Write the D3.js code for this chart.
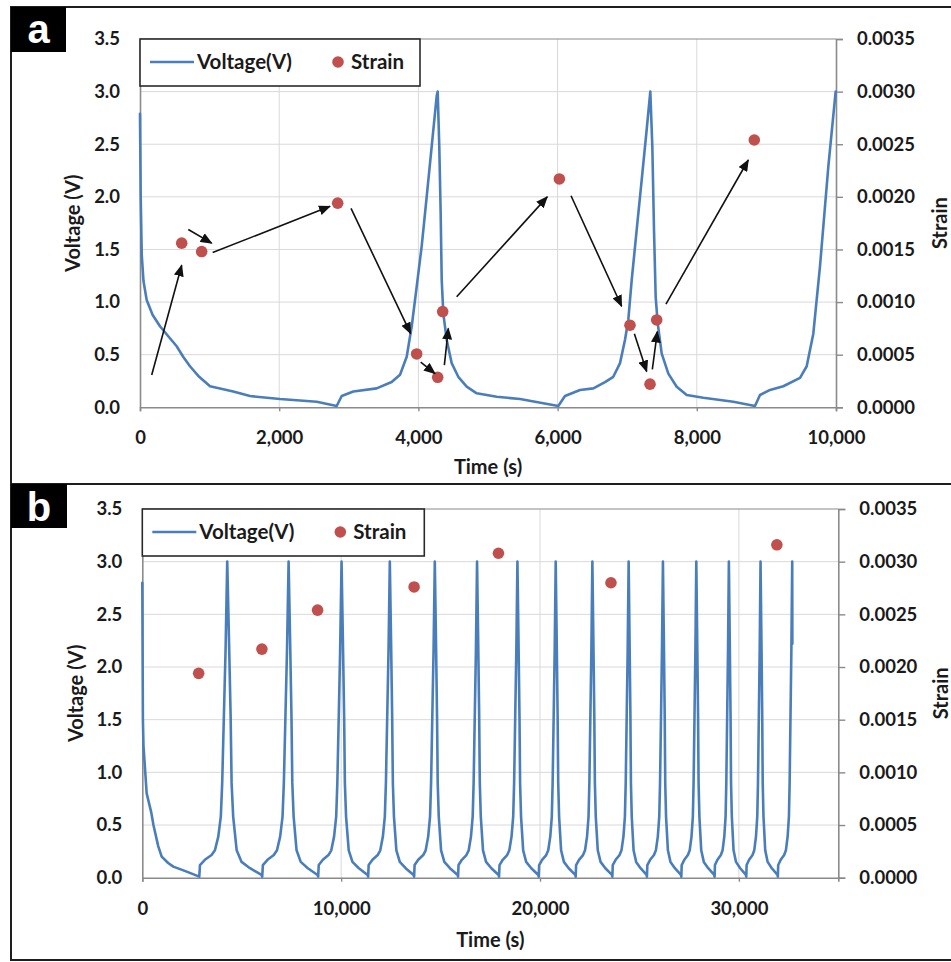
<!DOCTYPE html>
<html>
<head>
<meta charset="utf-8">
<script src="https://cdn.jsdelivr.net/npm/d3@7"></script>
<style>
  body { margin: 0; background: #fff; }
  svg { display: block; }
  text { font-family: Lato, "Open Sans", sans-serif; font-weight: 700; fill: #1a1a1a; }
</style>
</head>
<body>
<svg id="fig" width="951" height="962"></svg>
<script>
// ---- Panel a: first 10,000 s of cycling ----
const voltageA = [
  [0,2.79],[10,2.0],[25,1.45],[50,1.2],[96,1.02],[180,0.88],[287,0.77],[400,0.68],[527,0.58],
  [620,0.48],[718,0.39],[850,0.29],[1006,0.20],[1340,0.15],[1580,0.107],[2011,0.079],[2539,0.053],
  [2826,0.012],[2898,0.107],[3065,0.15],[3400,0.18],[3616,0.24],[3736,0.31],[3832,0.48],[3904,0.77],
  [3976,1.15],[4047,1.53],[4119,2.0],[4191,2.48],[4263,2.96],[4277,3.0],[4300,2.48],[4320,1.84],
  [4335,1.21],[4358,0.89],[4407,0.64],[4478,0.42],[4573,0.29],[4694,0.196],[4838,0.133],
  [5125,0.10],[5460,0.079],[6010,0.012],[6106,0.107],[6322,0.165],[6514,0.18],[6681,0.24],[6800,0.29],
  [6897,0.42],[6968,0.64],[7016,0.83],[7065,1.21],[7137,1.69],[7208,2.16],[7280,2.64],[7332,3.0],
  [7361,2.48],[7385,1.69],[7409,1.05],[7438,0.80],[7496,0.51],[7591,0.32],[7711,0.196],[7855,0.117],
  [8094,0.09],[8525,0.053],[8836,0.012],[8908,0.117],[9052,0.165],[9243,0.20],[9483,0.28],[9579,0.39],
  [9674,0.70],[9770,1.34],[9890,2.29],[9995,3.0]
];
const strainA = [
  [599,0.00156],[886,0.00148],[2840,0.00194],[3975,0.000507],[4277,0.000285],[4349,0.00091],
  [6025,0.00217],[7040,0.00078],[7328,0.00022],[7424,0.00083],[8826,0.00254]
];
// arrow annotations: [t0, V0, t1, V1] on the voltage scale, head at (t1, V1)
const arrowsA = [
  [168,0.307, 599,1.35],
  [694,1.69, 1030,1.56],
  [1044,1.47, 2730,1.91],
  [3032,1.89, 3889,0.70],
  [4033,0.43, 4239,0.32],
  [4373,0.40, 4430,0.75],
  [4550,1.05, 5852,2.00],
  [6193,2.01, 6920,0.96],
  [7103,0.70, 7280,0.34],
  [7361,0.36, 7433,0.72],
  [7557,0.98, 8740,2.35]
];
const timeTicksA = [0, 2000, 4000, 6000, 8000, 10000];

// ---- Panel b: full test ----
const voltageB = [
  [0,2.80],[30,1.50],[60,1.25],[220,0.80],[450,0.62],[560,0.50],[800,0.30],[975,0.20],[1300,0.14],[1560,0.105],[2200,0.06],[2865,0.01],
  [2900,0.12],[3146,0.17],[3484,0.215],[3652,0.26],[3821,0.39],[3948,0.58],[4018,0.90],[4102,1.53],[4187,2.16],[4271,3.0],[4371,2.16],[4442,1.53],[4491,0.90],[4570,0.58],[4746,0.26],[4992,0.15],[5414,0.09],[5995,0.026],[6030,0.01],
  [6063,0.12],[6295,0.17],[6614,0.215],[6773,0.26],[6932,0.39],[7052,0.58],[7118,0.90],[7198,1.53],[7277,2.16],[7357,3.0],[7442,2.16],[7501,1.53],[7543,0.90],[7610,0.58],[7758,0.26],[7967,0.15],[8324,0.09],[8814,0.026],[8844,0.01],
  [8873,0.12],[9079,0.17],[9361,0.215],[9503,0.26],[9644,0.39],[9750,0.58],[9808,0.90],[9879,1.53],[9949,2.16],[10020,3.0],[10096,2.16],[10150,1.53],[10187,0.90],[10247,0.58],[10381,0.26],[10568,0.15],[10889,0.09],[11330,0.026],[11357,0.01],
  [11384,0.12],[11575,0.17],[11837,0.215],[11967,0.26],[12098,0.39],[12196,0.58],[12251,0.90],[12316,1.53],[12382,2.16],[12447,3.0],[12517,2.16],[12565,1.53],[12600,0.90],[12655,0.58],[12777,0.26],[12948,0.15],[13241,0.09],[13644,0.026],[13668,0.01],
  [13694,0.12],[13876,0.17],[14126,0.215],[14251,0.26],[14376,0.39],[14470,0.58],[14522,0.90],[14584,1.53],[14647,2.16],[14709,3.0],[14776,2.16],[14822,1.53],[14855,0.90],[14908,0.58],[15025,0.26],[15189,0.15],[15470,0.09],[15856,0.026],[15879,0.01],
  [15903,0.12],[16070,0.17],[16299,0.215],[16414,0.26],[16528,0.39],[16614,0.58],[16662,0.90],[16719,1.53],[16777,2.16],[16834,3.0],[16897,2.16],[16941,1.53],[16972,0.90],[17022,0.58],[17133,0.26],[17287,0.15],[17553,0.09],[17918,0.026],[17940,0.01],
  [17963,0.12],[18125,0.17],[18347,0.215],[18457,0.26],[18568,0.39],[18651,0.58],[18698,0.90],[18753,1.53],[18809,2.16],[18864,3.0],[18925,2.16],[18968,1.53],[18998,0.90],[19046,0.58],[19153,0.26],[19303,0.15],[19560,0.09],[19914,0.026],[19935,0.01],
  [19956,0.12],[20106,0.17],[20311,0.215],[20413,0.26],[20516,0.39],[20593,0.58],[20635,0.90],[20687,1.53],[20738,2.16],[20789,3.0],[20846,2.16],[20886,1.53],[20915,0.90],[20960,0.58],[21060,0.26],[21201,0.15],[21442,0.09],[21774,0.026],[21794,0.01],
  [21815,0.12],[21962,0.17],[22163,0.215],[22264,0.26],[22365,0.39],[22440,0.58],[22482,0.90],[22532,1.53],[22583,2.16],[22633,3.0],[22690,2.16],[22730,1.53],[22759,0.90],[22804,0.58],[22904,0.26],[23045,0.15],[23286,0.09],[23618,0.026],[23638,0.01],
  [23658,0.12],[23802,0.17],[23998,0.215],[24097,0.26],[24195,0.39],[24269,0.58],[24310,0.90],[24359,1.53],[24408,2.16],[24457,3.0],[24509,2.16],[24546,1.53],[24572,0.90],[24613,0.58],[24705,0.26],[24834,0.15],[25055,0.09],[25359,0.026],[25377,0.01],
  [25397,0.12],[25538,0.17],[25731,0.215],[25827,0.26],[25924,0.39],[25996,0.58],[26036,0.90],[26085,1.53],[26133,2.16],[26181,3.0],[26234,2.16],[26271,1.53],[26297,0.90],[26338,0.58],[26431,0.26],[26560,0.15],[26782,0.09],[27088,0.026],[27106,0.01],
  [27125,0.12],[27257,0.17],[27437,0.215],[27528,0.26],[27618,0.39],[27686,0.58],[27723,0.90],[27769,1.53],[27814,2.16],[27859,3.0],[27911,2.16],[27948,1.53],[27974,0.90],[28015,0.58],[28107,0.26],[28236,0.15],[28457,0.09],[28761,0.026],[28779,0.01],
  [28797,0.12],[28923,0.17],[29095,0.215],[29181,0.26],[29267,0.39],[29332,0.58],[29368,0.90],[29411,1.53],[29454,2.16],[29497,3.0],[29547,2.16],[29582,1.53],[29606,0.90],[29646,0.58],[29733,0.26],[29856,0.15],[30066,0.09],[30355,0.026],[30372,0.01],
  [30390,0.12],[30516,0.17],[30688,0.215],[30774,0.26],[30860,0.39],[30925,0.58],[30961,0.90],[31004,1.53],[31047,2.16],[31090,3.0],[31140,2.16],[31174,1.53],[31199,0.90],[31238,0.58],[31325,0.26],[31447,0.15],[31656,0.09],[31943,0.026],[31960,0.01],
  [31978,0.12],[32105,0.17],[32278,0.215],[32365,0.26],[32452,0.39],[32517,0.58],[32553,0.90],[32596,1.53],[32640,2.16],[32683,3.0],[32690,2.22]
];
const strainB = [
  [2834,0.00194],[6015,0.00217],[8814,0.00254],[13668,0.00276],[17910,0.00308],[23568,0.00280],[31910,0.00316]
];
const timeTicksB = [0, 10000, 20000, 30000];

// ---- shared axis ticks ----
const voltTicks = [0, 0.5, 1.0, 1.5, 2.0, 2.5, 3.0, 3.5];
const strainTicks = [0, 0.0005, 0.0010, 0.0015, 0.0020, 0.0025, 0.0030, 0.0035];

const LINE_COLOR = "#4a7ebb";
const DOT_COLOR = "#c0504d";
const AXIS_COLOR = "#8a8a8a";
const GRID_COLOR = "#d9d9d9";

const svg = d3.select("#fig");

svg.append("defs").append("marker")
  .attr("id", "arrowhead")
  .attr("markerUnits", "userSpaceOnUse")
  .attr("viewBox", "0 0 12 10")
  .attr("refX", 11).attr("refY", 5)
  .attr("markerWidth", 12).attr("markerHeight", 10)
  .attr("orient", "auto")
  .append("path").attr("d", "M0,0 L12,5 L0,10 Z").attr("fill", "#111");

// panel frames
const frame = svg.append("g").attr("fill", "none").attr("stroke", "#1e1e1e").attr("stroke-width", 2);
frame.append("path").attr("d", "M960,7 H11 V960 H960");
frame.append("path").attr("d", "M11,484 H960");

function panelTag(x, y, w, h, letter, baseline) {
  svg.append("rect").attr("x", x).attr("y", y).attr("width", w).attr("height", h).attr("fill", "#000");
  svg.append("text").attr("x", x + w / 2).attr("y", baseline)
    .attr("text-anchor", "middle")
    .style("font-family", "'Liberation Sans', Arial, sans-serif")
    .style("font-size", "40px").style("fill", "#fff")
    .text(letter);
}

function drawPanel(o) {
  const g = svg.append("g");
  const x = d3.scaleLinear().domain([0, o.tMax]).range([o.left, o.right]);
  const y = d3.scaleLinear().domain([0, 3.5]).range([o.bottom, o.top]);
  const y2 = d3.scaleLinear().domain([0, 0.0035]).range([o.bottom, o.top]);

  // gridlines
  g.append("g").selectAll("line").data(voltTicks.filter(v => v > 0 && v < 3.5)).join("line")
    .attr("x1", o.left).attr("x2", o.right)
    .attr("y1", d => y(d)).attr("y2", d => y(d))
    .attr("stroke", GRID_COLOR).attr("stroke-width", 1);
  g.append("g").selectAll("line").data(o.ticks.filter(t => t > 0 && t < o.tMax)).join("line")
    .attr("x1", d => x(d)).attr("x2", d => x(d))
    .attr("y1", o.top).attr("y2", o.bottom)
    .attr("stroke", GRID_COLOR).attr("stroke-width", 1);
  // top edge of plot area
  g.append("line").attr("x1", o.left).attr("x2", o.right).attr("y1", y(3.5)).attr("y2", y(3.5))
    .attr("stroke", AXIS_COLOR).attr("stroke-width", 1.2);

  // axes
  const left = g.append("g").attr("transform", `translate(${o.left},0)`)
    .call(d3.axisLeft(y).tickValues(voltTicks).tickSize(0).tickPadding(20).tickFormat(d3.format(".1f")));
  const right = g.append("g").attr("transform", `translate(${o.right},0)`)
    .call(d3.axisRight(y2).tickValues(strainTicks).tickSize(7).tickPadding(14).tickFormat(d3.format(".4f")));
  const bottom = g.append("g").attr("transform", `translate(0,${o.bottom})`)
    .call(d3.axisBottom(x).tickValues(o.ticks).tickSize(4).tickPadding(20).tickFormat(d3.format(",")));
  [left, right, bottom].forEach(a => {
    a.select(".domain").attr("stroke", AXIS_COLOR).attr("stroke-width", 1.6);
    a.selectAll(".tick line").attr("stroke", AXIS_COLOR).attr("stroke-width", 1.4);
    a.selectAll("text").style("font-size", "18.5px").style("fill", "#1a1a1a");
  });

  // axis titles
  g.append("text").attr("transform", `translate(${o.yTitleX},${(o.top + o.bottom) / 2}) rotate(-90)`)
    .attr("text-anchor", "middle").attr("dy", "0.35em").style("font-size", "20px").text("Voltage (V)");
  g.append("text").attr("transform", `translate(${o.sTitleX},${(o.top + o.bottom) / 2}) rotate(-90)`)
    .attr("text-anchor", "middle").attr("dy", "0.35em").style("font-size", "20px").text("Strain");
  g.append("text").attr("x", (o.left + o.right) / 2).attr("y", o.xTitleY)
    .attr("text-anchor", "middle").attr("dy", "0.35em").style("font-size", "20px").text("Time (s)");

  // voltage trace
  g.append("path").datum(o.voltage)
    .attr("d", d3.line().x(d => x(d[0])).y(d => y(d[1])))
    .attr("fill", "none").attr("stroke", LINE_COLOR).attr("stroke-width", 2.6)
    .attr("stroke-linejoin", "round").attr("stroke-linecap", "round");

  // strain points
  g.append("g").selectAll("circle").data(o.strain).join("circle")
    .attr("cx", d => x(d[0])).attr("cy", d => y2(d[1])).attr("r", 5.8)
    .attr("fill", DOT_COLOR);

  // arrows
  if (o.arrows) {
    g.append("g").selectAll("line").data(o.arrows).join("line")
      .attr("x1", d => x(d[0])).attr("y1", d => y(d[1]))
      .attr("x2", d => x(d[2])).attr("y2", d => y(d[3]))
      .attr("stroke", "#111").attr("stroke-width", 1.6)
      .attr("marker-end", "url(#arrowhead)");
  }

  // legend
  const lg = g.append("g");
  const lx = o.left, ly = y(3.5);
  lg.append("rect").attr("x", lx).attr("y", ly).attr("width", o.legendW).attr("height", 47)
    .attr("fill", "#fff").attr("stroke", "#2a2a2a").attr("stroke-width", 1.6);
  lg.append("line").attr("x1", lx + 10).attr("x2", lx + 54).attr("y1", ly + 23).attr("y2", ly + 23)
    .attr("stroke", LINE_COLOR).attr("stroke-width", 2.6);
  lg.append("text").attr("x", lx + 57).attr("y", ly + 23).attr("dy", "0.35em")
    .style("font-size", "20.5px").text("Voltage(V)");
  lg.append("circle").attr("cx", lx + 198).attr("cy", ly + 23).attr("r", 5.8).attr("fill", DOT_COLOR);
  lg.append("text").attr("x", lx + 211).attr("y", ly + 23).attr("dy", "0.35em")
    .style("font-size", "20.5px").text("Strain");
}

drawPanel({
  left: 140, right: 836, top: 39, bottom: 407.3, tMax: 10000, ticks: timeTicksA,
  voltage: voltageA, strain: strainA, arrows: arrowsA,
  yTitleX: 73, sTitleX: 940, xTitleY: 467, legendW: 280
});
drawPanel({
  left: 142.3, right: 838.3, top: 509, bottom: 877.7, tMax: 35000, ticks: timeTicksB,
  voltage: voltageB, strain: strainB, arrows: null,
  yTitleX: 76, sTitleX: 941, xTitleY: 940, legendW: 282
});

panelTag(11, 7, 55, 45, "a", 43);
panelTag(11, 484, 56, 44, "b", 521);
</script>
</body>
</html>
